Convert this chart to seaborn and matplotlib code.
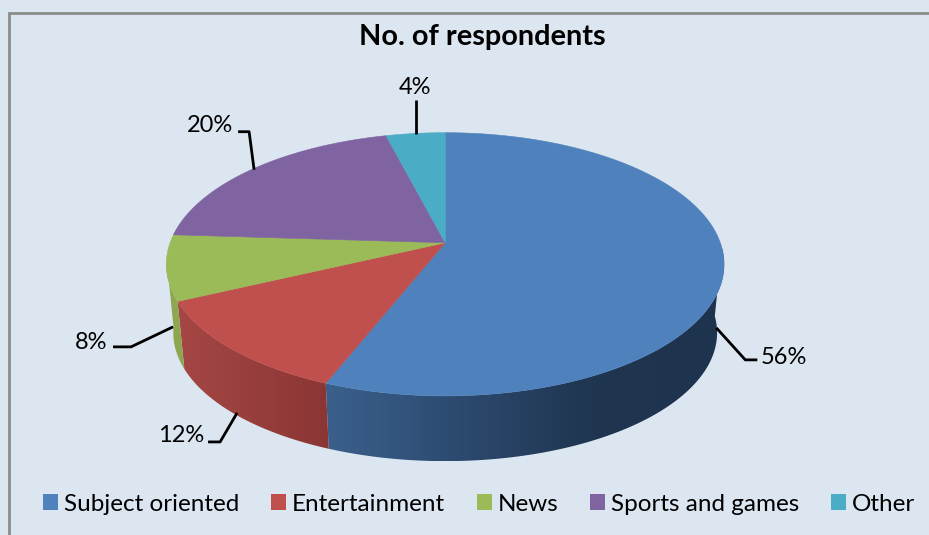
import numpy as np
import matplotlib
matplotlib.use("Agg")
import matplotlib.pyplot as plt
from matplotlib.patches import Patch, Polygon
from matplotlib.colors import LinearSegmentedColormap
import seaborn as sns

categories = ["Subject oriented", "Entertainment", "News", "Sports and games", "Other"]
shares = [56, 12, 8, 20, 4]
pct_labels = ["56%", "12%", "8%", "20%", "4%"]
colors = ["#4f81bd", "#c0504d", "#9bbb59", "#8064a2", "#4bacc6"]

# side wall shading, left colour to right colour
side_shades = {
    0: ["#3b608c", "#2c4a6f", "#1f3550", "#1e334e"],
    1: ["#a54744", "#8a3634"],
    2: ["#8ea750", "#8ea750"],
}

# leader lines and label spots, in pixels of the picture
leaders = [
    [(716, 328), (745, 360), (757, 360)],
    [(237, 413), (220, 442), (208, 442)],
    [(173, 327), (131, 347), (113, 347)],
    [(254, 170), (249, 132), (238, 132)],
    [(416, 134), (416, 100)],
]
label_xy = [(760, 357), (204, 435), (107, 342), (233, 125), (415, 87)]

BG = "#dce6f1"
APEX = (445, 243)
K = 0.1635      # perspective of the tilted disc
A, B = 275, 128
BASE_SCALE = 0.975
BASE_DROP = 69

sns.set_theme(style="white")
plt.rcParams["font.family"] = ["Lato", "DejaVu Sans"]


def top_point(t):
    # t is clockwise from 12 o'clock, in radians
    u, v = np.sin(t), np.cos(t)
    w = 1 + K * v
    return APEX[0] + A * u / w, APEX[1] - B * v / w


def base_point(t):
    x, y = top_point(t)
    return APEX[0] + (x - APEX[0]) * BASE_SCALE, APEX[1] + (y - APEX[1]) * BASE_SCALE + BASE_DROP


# the extra .004 keeps savefig from rounding down to 928 px
fig = plt.figure(figsize=(9.294, 5.354), dpi=100, facecolor=BG)
ax = fig.add_axes([0, 0, 1, 1], facecolor=BG)
ax.set_axis_off()

edges = np.radians(np.cumsum([0] + shares) / sum(shares) * 360)
vis_start, vis_end = np.radians(92), np.radians(263)

# side walls first
for i, shade in side_shades.items():
    lo, hi = max(edges[i], vis_start), min(edges[i + 1], vis_end)
    t = np.linspace(lo, hi, 120)
    tx, ty = top_point(t)
    bx, by = base_point(t)
    pts = np.column_stack([np.r_[tx, bx[::-1]], np.r_[ty, by[::-1]]])
    clip = Polygon(pts, closed=True, transform=ax.transData, facecolor="none", edgecolor="none")
    ax.add_patch(clip)
    cmap = LinearSegmentedColormap.from_list("side", sns.blend_palette(shade, 32))
    im = ax.imshow(np.linspace(0, 1, 256).reshape(1, -1), cmap=cmap, aspect="auto",
                   extent=[pts[:, 0].min(), pts[:, 0].max(), pts[:, 1].max(), pts[:, 1].min()],
                   interpolation="bilinear", zorder=2)
    im.set_clip_path(clip)

# top face
for i, c in enumerate(colors):
    t = np.linspace(edges[i], edges[i + 1], 200)
    x, y = top_point(t)
    ax.fill(np.r_[APEX[0], x], np.r_[APEX[1], y], color=c, lw=0.4, zorder=3)

# leaders and percent labels
for pts, txt, (lx, ly) in zip(leaders, pct_labels, label_xy):
    ax.plot(*zip(*pts), color="black", lw=2, solid_capstyle="butt", zorder=4)
    ha = "left" if txt == "56%" else ("center" if txt == "4%" else "right")
    ax.text(lx, ly, txt, fontsize=17, ha=ha, va="center", color="black")

ax.text(482, 37, "No. of respondents", fontsize=20.8, fontweight="bold", ha="center", va="center", color="black")

# chart frame, runs off the right and bottom of the crop
ax.plot([9, 9, 929], [535, 13, 13], color="#8c8c8c", lw=2, zorder=5, solid_joinstyle="miter")

handles = [Patch(facecolor=c, edgecolor="none") for c in colors]
ax.legend(handles, categories, ncol=5, frameon=False, fontsize=17.5, loc="center",
          bbox_to_anchor=(479 / 929, 1 - 504 / 535), handlelength=0.62, handleheight=0.62,
          handletextpad=0.25, columnspacing=1.3, labelcolor="black")

ax.set_xlim(0, 929)
ax.set_ylim(535, 0)

fig.savefig("out.png", dpi=100, facecolor=BG)
